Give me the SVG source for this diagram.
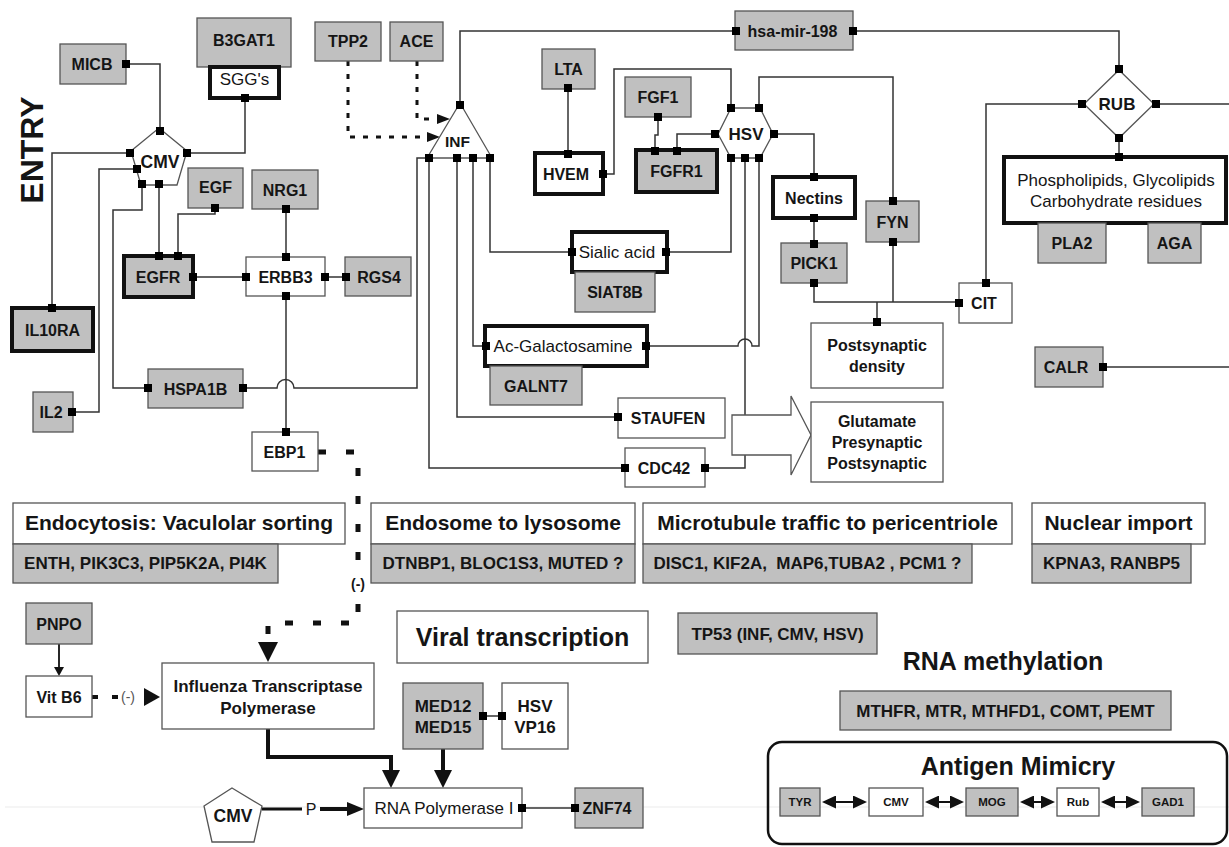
<svg xmlns="http://www.w3.org/2000/svg" width="1229" height="847" viewBox="0 0 1229 847">
<style>
text{font-family:"Liberation Sans",Arial,sans-serif;fill:#151515;text-anchor:middle}
.g{fill:#c0c0c0;stroke:#555;stroke-width:1.3}
.w{fill:#fff;stroke:#555;stroke-width:1.3}
.tg{fill:#c0c0c0;stroke:#111;stroke-width:4}
.tw{fill:#fff;stroke:#111;stroke-width:4}
.ln path{fill:none;stroke:#333;stroke-width:1.5}
.b{font-weight:bold;font-size:16px}
.r{font-size:17px}
.s{font-weight:bold;font-size:17px}
.h{font-weight:bold;font-size:21px}
.big{font-weight:bold;font-size:25px}
.sm{font-weight:bold;font-size:11.5px}
.pt{fill:#000}
</style>
<defs>
<rect id="pt" x="-4" y="-4" width="8" height="8" class="pt"/>
<marker id="a1" markerUnits="userSpaceOnUse" markerWidth="13" markerHeight="10" refX="0" refY="5" orient="auto"><path d="M0,0L13,5L0,10z" fill="#111"/></marker>
<marker id="a2" markerUnits="userSpaceOnUse" markerWidth="20" markerHeight="20" refX="0" refY="10" orient="auto"><path d="M0,0L20,10L0,20z" fill="#111"/></marker>
<marker id="a3" markerUnits="userSpaceOnUse" markerWidth="18" markerHeight="18" refX="0" refY="9" orient="auto"><path d="M0,0L18,9L0,18z" fill="#111"/></marker>
<marker id="a4" markerUnits="userSpaceOnUse" markerWidth="17" markerHeight="14" refX="0" refY="7" orient="auto"><path d="M0,0L17,7L0,14z" fill="#111"/></marker>
<marker id="a5" markerUnits="userSpaceOnUse" markerWidth="9" markerHeight="10" refX="0" refY="5" orient="auto"><path d="M0,0L9,5L0,10z" fill="#111"/></marker>
<marker id="a6" markerUnits="userSpaceOnUse" markerWidth="14" markerHeight="13" refX="0" refY="6.5" orient="auto-start-reverse"><path d="M0,0L14,6.5L0,13z" fill="#111"/></marker>
</defs>
<rect width="1229" height="847" fill="#fff"/>
<line x1="5" y1="807" x2="1229" y2="807" stroke="#ebebeb" stroke-width="1"/>

<g id="antigen-mimicry-frame">
<rect x="768" y="742" width="459" height="102" rx="14" fill="none" stroke="#111" stroke-width="2.5"/>
<text x="1018" y="775" class="big">Antigen Mimicry</text>
</g>

<g id="entry-label"><text transform="translate(43,150) rotate(-90)" style="font-weight:bold;font-size:32px">ENTRY</text></g>

<g id="connectors" class="ln">
<path d="M126,64H160V131"/>
<path d="M245,98V153H187"/>
<path d="M130,153H52V308"/>
<path d="M137,169H99V412H72"/>
<path d="M142,184V210H113V388H148"/>
<path d="M159,184V256"/>
<path d="M215,208V214H178V256"/>
<path d="M193,277H246"/>
<path d="M286,209V257"/>
<path d="M325,277H346"/>
<path d="M286,296V432"/>
<path d="M243,388H277A8.5,8.5 0 0 1 294,388H417V158H429"/>
<path d="M429,158V468H625"/>
<path d="M457,158V417H618"/>
<path d="M473,158V346H486"/>
<path d="M490,158V252H572"/>
<path d="M460,105V31H736"/>
<path d="M853,31H1119V69"/>
<path d="M568,88V154"/>
<path d="M603,174H614V69H731V108"/>
<path d="M658,117V135H655V151"/>
<path d="M677,151V134H715"/>
<path d="M759,108V77H893V201"/>
<path d="M774,134H814V177"/>
<path d="M814,218V244"/>
<path d="M814,283V302H959"/>
<path d="M893,242V302"/>
<path d="M877,302V322"/>
<path d="M731,158V252H666"/>
<path d="M745,158V468H705"/>
<path d="M759,158V346H752A7,7 0 0 0 738,346H646"/>
<path d="M1119,138V157"/>
<path d="M1082,104H986V283"/>
<path d="M1156,104H1229"/>
<path d="M1103,367H1229"/>
<path d="M483,716H502"/>
<path d="M522,808H575"/>
<path d="M348,61V137H427" style="stroke:#111;stroke-width:3;stroke-dasharray:5 8" marker-end="url(#a1)"/>
<path d="M417,61V119H437" style="stroke:#111;stroke-width:3;stroke-dasharray:5 8" marker-end="url(#a1)"/>
<path d="M318,452H358V562" style="stroke:#111;stroke-width:5;stroke-dasharray:8 20"/>
<path d="M358,604V623H268V642" style="stroke:#111;stroke-width:5;stroke-dasharray:8 20" marker-end="url(#a2)"/>
<text x="358" y="589" style="font-weight:bold;font-size:14px">(-)</text>
<path d="M92,697H118" style="stroke:#111;stroke-width:4;stroke-dasharray:6 14"/>
<text x="128" y="702" style="font-size:14px;fill:#555">(-)</text>
<polygon points="144,688 160,697 144,706" fill="#111"/>
<path d="M59,644V667" style="stroke:#111;stroke-width:1.8" marker-end="url(#a5)"/>
<path d="M268,729V757H391V770" style="stroke:#111;stroke-width:4" marker-end="url(#a3)"/>
<path d="M443,749V770" style="stroke:#111;stroke-width:4" marker-end="url(#a3)"/>
<path d="M262,809H302" style="stroke:#111;stroke-width:3"/>
<text x="311" y="815" style="font-size:16px">P</text>
<path d="M320,809H347" style="stroke:#111;stroke-width:4" marker-end="url(#a4)"/>
<path d="M836,802H853" style="stroke:#111;stroke-width:2" marker-start="url(#a6)" marker-end="url(#a6)"/>
<path d="M939,802H950" style="stroke:#111;stroke-width:2" marker-start="url(#a6)" marker-end="url(#a6)"/>
<path d="M1034,802H1041" style="stroke:#111;stroke-width:2" marker-start="url(#a6)" marker-end="url(#a6)"/>
<path d="M1115,802H1126" style="stroke:#111;stroke-width:2" marker-start="url(#a6)" marker-end="url(#a6)"/>
<polygon id="block-arrow" points="732,415 791,415 791,396 811,435 791,475 791,455 732,455" fill="#fff" stroke="#555" stroke-width="1.3"/>
</g>

<g id="MICB"><rect class="g" x="60" y="44" width="66" height="40"/><text class="b" x="92" y="70">MICB</text></g>
<g id="B3GAT1"><rect class="g" x="197" y="18" width="94" height="49"/><text class="b" x="244" y="46">B3GAT1</text></g>
<g id="SGGs"><rect class="tw" x="210" y="67" width="69" height="31"/><text class="r" x="244.5" y="85">SGG's</text></g>
<g id="TPP2"><rect class="g" x="315" y="22" width="66" height="39"/><text class="b" x="348" y="47">TPP2</text></g>
<g id="ACE"><rect class="g" x="390" y="22" width="53" height="39"/><text class="b" x="416.5" y="47">ACE</text></g>
<g id="CMV"><polygon class="w" points="159,128 187,151 177,185 141,185 131,151"/><text x="160" y="168" style="font-weight:bold;font-size:17.5px">CMV</text></g>
<g id="EGF"><rect class="g" x="188" y="168" width="55" height="40"/><text class="b" x="215.5" y="193">EGF</text></g>
<g id="NRG1"><rect class="g" x="252" y="170" width="66" height="39"/><text class="b" x="285" y="195.5">NRG1</text></g>
<g id="EGFR"><rect class="tg" x="124" y="256" width="69" height="41"/><text class="b" x="158" y="282.5">EGFR</text></g>
<g id="ERBB3"><rect class="w" x="246" y="257" width="79" height="39"/><text class="b" x="285.5" y="282.5">ERBB3</text></g>
<g id="RGS4"><rect class="g" x="345" y="257" width="66" height="39"/><text class="b" x="379" y="282.5">RGS4</text></g>
<g id="IL10RA"><rect class="tg" x="12" y="308" width="81" height="43"/><text class="b" x="52.5" y="335.5">IL10RA</text></g>
<g id="HSPA1B"><rect class="g" x="148" y="369" width="95" height="39"/><text class="b" x="195.5" y="394.5">HSPA1B</text></g>
<g id="IL2"><rect class="g" x="33" y="392" width="40" height="40"/><text class="b" x="51" y="418">IL2</text></g>
<g id="EBP1"><rect class="w" x="252" y="432" width="66" height="39"/><text class="b" x="284.5" y="457.5">EBP1</text></g>
<g id="INF"><polygon class="w" points="460,103 492,158 427,158"/><text x="457.5" y="147" style="font-weight:bold;font-size:15.5px">INF</text></g>
<g id="hsa-mir-198"><rect class="g" x="735" y="11" width="118" height="39"/><text class="b" x="792.5" y="36.5">hsa-mir-198</text></g>
<g id="LTA"><rect class="g" x="542" y="49" width="53" height="40"/><text class="b" x="568.5" y="75">LTA</text></g>
<g id="HVEM"><rect class="tw" x="535" y="153" width="68" height="41"/><text class="b" x="566" y="179.5">HVEM</text></g>
<g id="FGF1"><rect class="g" x="625" y="77" width="66" height="40"/><text class="b" x="658" y="103">FGF1</text></g>
<g id="FGFR1"><rect class="tg" x="636" y="150" width="81" height="42"/><text class="b" x="676.5" y="177">FGFR1</text></g>
<g id="HSV"><polygon class="w" points="718,134 731,108 760,108 773,134 760,158 731,158"/><text x="746" y="140" style="font-weight:bold;font-size:17px">HSV</text></g>
<g id="Nectins"><rect class="tw" x="773" y="177" width="82" height="41"/><text class="b" x="814" y="203.5">Nectins</text></g>
<g id="PICK1"><rect class="g" x="781" y="243" width="66" height="40"/><text class="b" x="814" y="269">PICK1</text></g>
<g id="FYN"><rect class="g" x="866" y="201" width="53" height="41"/><text class="b" x="892.5" y="227.5">FYN</text></g>
<g id="CIT"><rect class="w" x="959" y="283" width="53" height="40"/><text class="b" x="984" y="309">CIT</text></g>
<g id="postsynaptic-density"><rect class="w" x="811" y="323" width="132" height="65"/><text class="b" x="877" y="351">Postsynaptic</text><text class="b" x="877" y="372">density</text></g>
<g id="glutamate"><rect class="w" x="811" y="402" width="132" height="80"/><text class="b" x="877" y="427">Glutamate</text><text class="b" x="877" y="448">Presynaptic</text><text class="b" x="877" y="469">Postsynaptic</text></g>
<g id="RUB"><polygon class="w" points="1119,70 1154,104 1119,138 1084,104"/><text x="1117" y="110" style="font-weight:bold;font-size:17px">RUB</text></g>
<g id="phospholipids"><rect class="tw" x="1004" y="157" width="222" height="66"/><text class="r" x="1116" y="186">Phospholipids, Glycolipids</text><text class="r" x="1116" y="207">Carbohydrate residues</text></g>
<g id="PLA2"><rect class="g" x="1038" y="223" width="68" height="40"/><text class="b" x="1072" y="249">PLA2</text></g>
<g id="AGA"><rect class="g" x="1148" y="223" width="53" height="40"/><text class="b" x="1174.5" y="249">AGA</text></g>
<g id="CALR"><rect class="g" x="1035" y="347" width="68" height="40"/><text class="b" x="1066" y="373">CALR</text></g>
<g id="sialic-acid"><rect class="tw" x="572" y="232" width="95" height="40"/><text class="r" x="617" y="258">Sialic acid</text></g>
<g id="SIAT8B"><rect class="g" x="575" y="272" width="80" height="40"/><text class="b" x="615" y="298">SIAT8B</text></g>
<g id="ac-galactosamine"><rect class="tw" x="485" y="326" width="162" height="40"/><text class="r" x="563" y="352">Ac-Galactosamine</text></g>
<g id="GALNT7"><rect class="g" x="490" y="366" width="92" height="39"/><text class="b" x="536" y="391.5">GALNT7</text></g>
<g id="STAUFEN"><rect class="w" x="618" y="398" width="107" height="40"/><text class="b" x="668" y="424">STAUFEN</text></g>
<g id="CDC42"><rect class="w" x="625" y="448" width="80" height="39"/><text class="b" x="664" y="473.5">CDC42</text></g>

<g id="endocytosis"><rect class="w" x="13" y="503" width="332" height="41"/><text class="h" x="179" y="530">Endocytosis: Vaculolar sorting</text><rect class="g" x="13" y="544" width="265" height="39"/><text class="s" x="145.5" y="569">ENTH, PIK3C3, PIP5K2A, PI4K</text></g>
<g id="endosome"><rect class="w" x="371" y="503" width="264" height="41"/><text class="h" x="503" y="530">Endosome to lysosome</text><rect class="g" x="371" y="544" width="264" height="39"/><text class="s" x="503" y="569">DTNBP1, BLOC1S3, MUTED ?</text></g>
<g id="microtubule"><rect class="w" x="643" y="503" width="369" height="41"/><text class="h" x="827.5" y="530">Microtubule traffic to pericentriole</text><rect class="g" x="643" y="544" width="329" height="39"/><text class="s" x="807.5" y="569" style="white-space:pre">DISC1, KIF2A,  MAP6,TUBA2 , PCM1 ?</text></g>
<g id="nuclear-import"><rect class="w" x="1032" y="503" width="173" height="41"/><text class="h" x="1118.5" y="530">Nuclear import</text><rect class="g" x="1032" y="544" width="159" height="39"/><text class="s" x="1111.5" y="569">KPNA3, RANBP5</text></g>

<g id="PNPO"><rect class="g" x="26" y="603" width="66" height="41"/><text class="b" x="59" y="629.5">PNPO</text></g>
<g id="VitB6"><rect class="w" x="26" y="676" width="66" height="41"/><text class="b" x="59" y="702.5">Vit B6</text></g>
<g id="influenza"><rect class="w" x="162" y="663" width="212" height="66"/><text class="s" x="268" y="692">Influenza Transcriptase</text><text class="s" x="268" y="714">Polymerase</text></g>
<g id="viral-transcription"><rect class="w" x="397" y="611" width="251" height="52"/><text class="big" x="522.5" y="646">Viral transcription</text></g>
<g id="TP53"><rect class="g" x="678" y="613" width="199" height="41"/><text class="s" x="777.5" y="639.5">TP53 (INF, CMV, HSV)</text></g>
<g id="MED"><rect class="g" x="403" y="683" width="80" height="66"/><text class="s" x="443" y="712">MED12</text><text class="s" x="443" y="733">MED15</text></g>
<g id="HSV-VP16"><rect class="w" x="502" y="683" width="66" height="66"/><text class="s" x="535" y="712">HSV</text><text class="s" x="535" y="733">VP16</text></g>
<g id="CMV2"><polygon class="w" points="232,788 262,806 254,842 212,842 204,806"/><text x="233" y="822" style="font-weight:bold;font-size:17.5px">CMV</text></g>
<g id="rna-pol"><rect class="w" x="364" y="788" width="158" height="40"/><text x="444" y="814" style="font-size:17px">RNA Polymerase I</text></g>
<g id="ZNF74"><rect class="g" x="575" y="788" width="68" height="40"/><text class="b" x="607" y="814">ZNF74</text></g>
<g id="rna-methylation"><text class="big" x="1003" y="670">RNA methylation</text><rect class="g" x="840" y="691" width="331" height="39"/><text class="s" x="1005.5" y="716.5">MTHFR, MTR, MTHFD1, COMT, PEMT</text></g>
<g id="TYR"><rect class="g" x="780" y="788" width="40" height="28"/><text class="sm" x="800" y="806">TYR</text></g>
<g id="CMV3"><rect class="w" x="869" y="788" width="54" height="28"/><text class="sm" x="896" y="806">CMV</text></g>
<g id="MOG"><rect class="g" x="966" y="788" width="52" height="28"/><text class="sm" x="992" y="806">MOG</text></g>
<g id="Rub"><rect class="w" x="1057" y="788" width="42" height="28"/><text class="sm" x="1078" y="806">Rub</text></g>
<g id="GAD1"><rect class="g" x="1142" y="788" width="52" height="28"/><text class="sm" x="1168" y="806">GAD1</text></g>

<g id="ports">
<use href="#pt" x="126" y="64"/><use href="#pt" x="245" y="98"/>
<use href="#pt" x="160" y="131"/><use href="#pt" x="130" y="153"/><use href="#pt" x="187" y="153"/><use href="#pt" x="137" y="169"/><use href="#pt" x="142" y="184"/><use href="#pt" x="159" y="184"/>
<use href="#pt" x="52" y="308"/><use href="#pt" x="72" y="412"/>
<use href="#pt" x="215" y="208"/><use href="#pt" x="159" y="256"/><use href="#pt" x="178" y="256"/><use href="#pt" x="193" y="277"/>
<use href="#pt" x="246" y="277"/><use href="#pt" x="286" y="257"/><use href="#pt" x="325" y="277"/><use href="#pt" x="286" y="296"/><use href="#pt" x="286" y="209"/><use href="#pt" x="346" y="277"/>
<use href="#pt" x="148" y="388"/><use href="#pt" x="243" y="388"/><use href="#pt" x="286" y="432"/>
<use href="#pt" x="460" y="105"/><use href="#pt" x="429" y="158"/><use href="#pt" x="457" y="158"/><use href="#pt" x="473" y="158"/><use href="#pt" x="490" y="158"/>
<use href="#pt" x="736" y="31"/><use href="#pt" x="853" y="31"/>
<use href="#pt" x="568" y="88"/><use href="#pt" x="568" y="154"/><use href="#pt" x="603" y="174"/>
<use href="#pt" x="658" y="117"/><use href="#pt" x="655" y="151"/><use href="#pt" x="677" y="151"/>
<use href="#pt" x="731" y="108"/><use href="#pt" x="759" y="108"/><use href="#pt" x="715" y="134"/><use href="#pt" x="774" y="134"/><use href="#pt" x="731" y="158"/><use href="#pt" x="745" y="158"/><use href="#pt" x="759" y="158"/>
<use href="#pt" x="814" y="177"/><use href="#pt" x="814" y="218"/><use href="#pt" x="814" y="244"/><use href="#pt" x="814" y="283"/>
<use href="#pt" x="893" y="201"/><use href="#pt" x="893" y="242"/><use href="#pt" x="877" y="322"/>
<use href="#pt" x="986" y="283"/><use href="#pt" x="959" y="303"/>
<use href="#pt" x="1119" y="69"/><use href="#pt" x="1082" y="104"/><use href="#pt" x="1156" y="104"/><use href="#pt" x="1119" y="138"/><use href="#pt" x="1119" y="157"/>
<use href="#pt" x="572" y="252"/><use href="#pt" x="666" y="252"/><use href="#pt" x="486" y="346"/><use href="#pt" x="646" y="346"/>
<use href="#pt" x="618" y="417"/><use href="#pt" x="625" y="468"/><use href="#pt" x="705" y="468"/>
<use href="#pt" x="1103" y="367"/>
<use href="#pt" x="483" y="716"/><use href="#pt" x="502" y="716"/>
<use href="#pt" x="522" y="808"/><use href="#pt" x="575" y="808"/>
</g>
</svg>
